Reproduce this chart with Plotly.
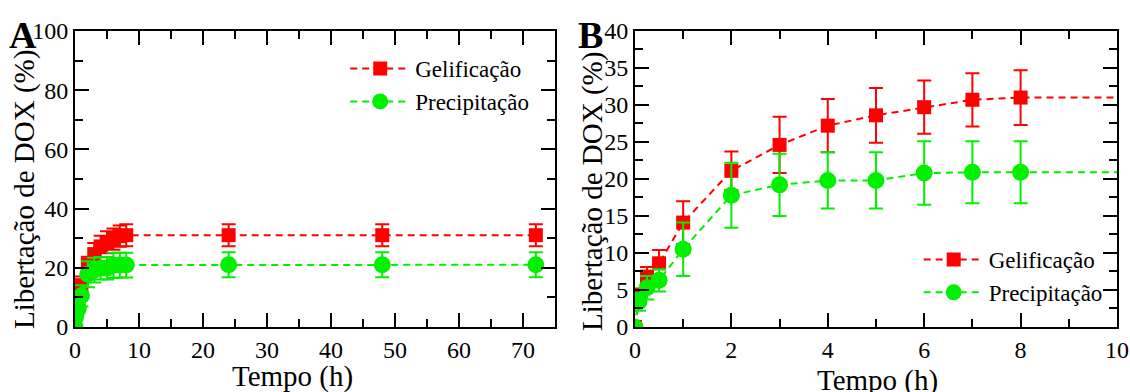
import plotly.graph_objects as go

# Release profile of DOX from the two formulations
tempo = [0, 0.083, 0.25, 0.5, 1, 2, 3, 4, 5, 6, 7, 8, 24, 48, 72]
gelificacao = [0, 4.3, 6.8, 8.6, 14.1, 21.1, 24.6, 27.2, 28.6, 29.7, 30.7, 31.0, 31.0, 31.0, 31.0]
gelificacao_err = [0, 0.9, 1.3, 1.8, 2.9, 2.6, 3.8, 3.6, 3.7, 3.6, 3.6, 3.7, 3.7, 3.7, 3.7]
precipitacao = [0, 3.4, 5.3, 6.3, 10.5, 17.8, 19.2, 19.8, 19.8, 20.8, 20.9, 20.9, 21.0, 21.0, 21.0]
precipitacao_err = [0, 1.2, 1.6, 1.5, 3.6, 4.4, 4.2, 3.8, 3.8, 4.3, 4.2, 4.2, 4.2, 4.2, 4.2]

RED = "#ff0000"
GREEN = "#00f000"
FONT = "Liberation Serif"

fig = go.Figure()

series = [
    ("Gelificação", gelificacao, gelificacao_err, RED, "square", 14),
    ("Precipitação", precipitacao, precipitacao_err, GREEN, "circle", 17),
]

for xa, ya, leg in [("x", "y", "legend"), ("x2", "y2", "legend2")]:
    for name, vals, err, col, sym, size in series:
        fig.add_trace(go.Scatter(
            x=tempo, y=vals, name=name, mode="lines+markers",
            xaxis=xa, yaxis=ya, legend=leg,
            line=dict(color=col, width=2, dash="7px,5px"),
            marker=dict(color=col, symbol=sym, size=size, line=dict(width=0)),
            error_y=dict(type="data", array=err, visible=True,
                         color=col, thickness=2, width=7),
        ))

minor_style = dict(ticks="inside", ticklen=8, tickwidth=2, tickcolor="black")
axis_common = dict(
    showline=True, linecolor="black", linewidth=2, mirror="allticks",
    ticks="inside", ticklen=14, tickwidth=2, tickcolor="black",
    showgrid=False, zeroline=False, automargin=False,
    tickfont=dict(family=FONT, size=24, color="black"),
)

ydom = [0.166, 0.921]
fig.update_layout(
    width=1130, height=392,
    margin=dict(l=0, r=0, t=0, b=0, autoexpand=False),
    paper_bgcolor="white", plot_bgcolor="white",
    font=dict(family=FONT, color="black"),
    xaxis=dict(domain=[0.0664, 0.4912], range=[0, 75], dtick=10,
               minor=dict(dtick=5, **minor_style), **axis_common),
    yaxis=dict(domain=ydom, range=[0, 100], dtick=20, anchor="x",
               minor=dict(dtick=10, **minor_style), **axis_common),
    xaxis2=dict(domain=[0.5619, 0.9885], range=[0, 10], dtick=2, anchor="y2",
                minor=dict(dtick=1, **minor_style), **axis_common),
    yaxis2=dict(domain=ydom, range=[0, 40], dtick=5, anchor="x2",
                minor=dict(dtick=2.5, **minor_style), **axis_common),
    legend=dict(x=0.3055, y=0.88, xanchor="left", yanchor="top",
                bgcolor="rgba(0,0,0,0)", itemwidth=60, tracegroupgap=0,
                font=dict(family=FONT, size=23, color="black")),
    legend2=dict(x=0.813, y=0.393, xanchor="left", yanchor="top",
                 bgcolor="rgba(0,0,0,0)", itemwidth=60, tracegroupgap=0,
                 font=dict(family=FONT, size=23, color="black")),
)

# Axis titles and panel letters (positions in pixels from the top-left corner)
W, H = 1130, 392
labels = [
    ("Tempo (h)", 292, 376, 0, 29),
    ("Tempo (h)", 877, 380, 0, 29),
    ("Libertação de DOX (%)", 25, 190, -90, 29),
    ("Libertação de DOX (%)", 592, 192, -90, 29),
    ("<b>A</b>", 23, 35, 0, 38),
    ("<b>B</b>", 590, 35, 0, 38),
]
fig.update_layout(annotations=[
    dict(text=t, x=px / W, y=1 - py / H, xref="paper", yref="paper",
         xanchor="center", yanchor="middle", textangle=ang, showarrow=False,
         font=dict(family=FONT, size=sz, color="black"))
    for t, px, py, ang, sz in labels
])

fig.write_html("out.html")
